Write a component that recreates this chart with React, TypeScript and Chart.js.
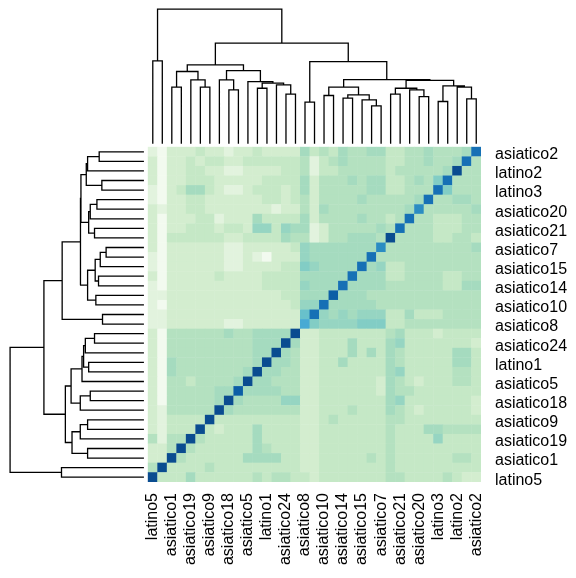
import React, { useEffect, useRef } from 'react';
import { Chart, registerables } from 'chart.js';

Chart.register(...registerables);

// Leaf order (left→right for columns, bottom→top for rows). null = label hidden in the original.
const leafLabels: (string | null)[] = [
  'latino5', null, 'asiatico1', null, 'asiatico19', null, 'asiatico9', null, 'asiatico18', null,
  'asiatico5', null, 'latino1', null, 'asiatico24', null, 'asiatico8', null, 'asiatico10', null,
  'asiatico14', null, 'asiatico15', null, 'asiatico7', null, 'asiatico21', null, 'asiatico20', null,
  'latino3', null, 'latino2', null, 'asiatico2',
];

// Colour levels (row-scaled values, binned) – light green → dark blue
const levelKeys = '0123456789abcd';
const levelColors = [
  '#f2faef', '#e2f3de', '#d3edcf', '#c5e8c6', '#b4e1c0', '#a5dbbf', '#96d5c2',
  '#82cdc5', '#68c1cb', '#47aad4', '#2b8cc2', '#1670b5', '#0c5ea6', '#0a4c90',
];

// Heatmap levels, rows listed from the top of the picture, columns left→right
const heatRowsTopDown: string[] = [
  '10222 32212 23222 25343 54455 33445 4445b',
  '20223 23322 33333 34134 54444 33445 445b4',
  '20223 32211 22223 34133 44444 34444 45d44',
  '20223 33222 22333 35244 45455 33454 7b444',
  '10235 53211 23332 35244 44455 33444 b7444',
  '10223 32222 22332 34244 44544 4445b 44554',
  '21223 32222 22212 24254 44444 445a4 44445',
  '20222 33122 25333 35244 44544 34b44 33344',
  '20223 33233 26636 55124 44445 4b444 33344',
  '20333 33322 33335 44124 45554 d4444 33443',
  '20222 22211 22222 36555 5555a 44444 44445',
  '10222 22211 21022 26555 555b4 44444 44444',
  '10222 22211 22223 37655 55b56 33444 44444',
  '20222 22322 22333 35555 5b555 33444 43344',
  '10222 22222 22333 36555 b5555 44444 43355',
  '11222 22222 22223 3555c 55544 44444 44444',
  '10222 22222 22222 366b5 55554 44444 44444',
  '11222 22222 22222 28b65 65666 33533 34444',
  '11222 22211 22222 29766 66777 33444 44444',
  '20444 44454 45555 d2233 33333 45333 23333',
  '20444 44444 4555d 52233 35333 56333 33332',
  '20444 44444 455d5 42233 35353 54333 33553',
  '20544 44444 45d55 42233 53333 54333 33553',
  '20544 44444 5d554 42233 33333 56333 33443',
  '20443 44445 d5544 42233 33332 54323 33443',
  '20444 4455c 55554 42233 33332 54433 33333',
  '20444 445d5 44446 62233 33333 56333 33332',
  '21444 44d54 44444 42233 34333 54323 33332',
  '21333 3d333 33333 32234 33333 44333 33333',
  '21333 d3233 35333 32233 33333 43335 54444',
  '4144d 43333 35333 32233 33333 43333 63333',
  '224d4 33333 35433 32233 33333 43333 33333',
  '22d43 33333 55553 32233 33343 43333 33443',
  '4d333 34333 33333 32233 33333 43333 33333',
  'd3335 33333 34344 33233 33333 44333 34322',
];

// Clustering (same tree for rows and columns). Numbers = leaf positions, 'mN' = merge N (1-based).
const mergeLeft: (number | string)[] = [
  16, 23, 30, 33, 20, 28, 18, 14, 25, 8, 11, 2, 5,
  22, 'm5', 'm7', 27, 'm9', 32, 'm3', 'm18', 'm16', 'm1', 13, 'm11', 10, 7, 'm27', 4, 'm12', 'm30', 'm31', 0, 'm33',
];
const mergeRight: (number | string)[] = [
  17, 24, 31, 34, 21, 29, 19, 15, 26, 9, 12, 3, 6,
  'm2', 'm14', 'm15', 'm6', 'm17', 'm4', 'm19', 'm20', 'm21', 'm22', 'm8', 'm24', 'm25', 'm10', 'm26', 'm13', 'm29', 'm28', 'm23', 1, 'm32',
];
const mergeHeight: number[] = [
  0.306, 0.279, 0.311, 0.331, 0.336, 0.348, 0.356, 0.366, 0.366, 0.398, 0.41, 0.418, 0.418,
  0.323, 0.361, 0.418, 0.398, 0.41, 0.418, 0.428, 0.468, 0.475, 0.609, 0.435, 0.448, 0.46, 0.473, 0.542, 0.473, 0.535, 0.585, 0.746, 0.614, 1.0,
];

const FONT = "'Liberation Sans', Arial, Helvetica, sans-serif";

export default function App() {
  const ref = useRef<HTMLCanvasElement>(null);

  useEffect(() => {
    const n = leafLabels.length;
    const cells: any[] = [];
    heatRowsTopDown.forEach((row, i) => {
      const chars = row.replace(/\s/g, '');
      for (let j = 0; j < chars.length; j++) {
        cells.push({ x: j, y: n - 1 - i, v: levelKeys.indexOf(chars[j]) });
      }
    });

    // dendrogram geometry from merges
    const nodePos: number[] = [];
    const posOf = (r: number | string): number =>
      typeof r === 'number' ? r : nodePos[parseInt(r.slice(1), 10) - 1];
    const hOf = (r: number | string): number =>
      typeof r === 'number' ? 0 : mergeHeight[parseInt(r.slice(1), 10) - 1];
    const segs: { p: number; h: number }[][] = [];
    for (let m = 0; m < mergeHeight.length; m++) {
      const pl = posOf(mergeLeft[m]);
      const pr = posOf(mergeRight[m]);
      nodePos.push((pl + pr) / 2);
      const h = mergeHeight[m];
      segs.push([
        { p: pl, h: hOf(mergeLeft[m]) },
        { p: pl, h },
        { p: pr, h },
        { p: pr, h: hOf(mergeRight[m]) },
      ]);
    }
    const topBase = 34.9, leftBase = -1, span = 14;
    const topData: any[] = [];
    const leftData: any[] = [];
    segs.forEach((s) => {
      s.forEach((pt) => {
        topData.push({ x: pt.p, y: topBase + pt.h * span });
        leftData.push({ x: leftBase - pt.h * span, y: pt.p });
      });
      topData.push({ x: null, y: null });
      leftData.push({ x: null, y: null });
    });

    const tickValues = leafLabels.map((l, i) => (l ? i : -1)).filter((i) => i >= 0);

    const cellRadius = (ctx: any) => {
      const sx = ctx.chart.scales.x;
      const sy = ctx.chart.scales.y;
      const w = Math.abs(sx.getPixelForValue(1) - sx.getPixelForValue(0));
      const h = Math.abs(sy.getPixelForValue(1) - sy.getPixelForValue(0));
      return (Math.max(w, h) + 0.4) / Math.SQRT2;
    };
    const cellColor = (ctx: any) => {
      const raw = ctx.raw;
      return raw ? levelColors[raw.v] : '#fff';
    };

    const lineStyle = {
      showLine: true,
      spanGaps: false,
      pointRadius: 0,
      borderColor: '#000',
      borderWidth: 1.3,
      borderCapStyle: 'square',
    };

    const chart = new Chart(ref.current as HTMLCanvasElement, {
      type: 'scatter',
      data: {
        datasets: [
          {
            data: cells,
            pointStyle: 'rect',
            pointRadius: cellRadius,
            pointHoverRadius: cellRadius,
            pointBackgroundColor: cellColor,
            pointBorderColor: cellColor,
            pointBorderWidth: 0,
            showLine: false,
          } as any,
          { data: topData, ...lineStyle } as any,
          { data: leftData, ...lineStyle } as any,
        ],
      },
      options: {
        responsive: false,
        animation: false,
        events: [],
        layout: { padding: 0 },
        plugins: { legend: { display: false }, tooltip: { enabled: false } },
        scales: {
          x: {
            type: 'linear',
            position: 'bottom',
            min: -16.06,
            max: 34.5,
            grid: { display: false, drawTicks: false },
            border: { display: false },
            afterBuildTicks: (s: any) => {
              s.ticks = tickValues.map((v) => ({ value: v }));
            },
            afterFit: (s: any) => {
              s.height = 96;
              s.paddingLeft = 0;
              s.paddingRight = 0;
            },
            ticks: {
              autoSkip: false,
              minRotation: 90,
              maxRotation: 90,
              padding: 11,
              color: '#000',
              font: { family: FONT, size: 16 },
              callback: (v: any) => leafLabels[v] ?? '',
            },
          },
          y: {
            type: 'linear',
            position: 'right',
            min: -0.5,
            max: 49.86,
            grid: { display: false, drawTicks: false },
            border: { display: false },
            afterBuildTicks: (s: any) => {
              s.ticks = tickValues.map((v) => ({ value: v }));
            },
            afterFit: (s: any) => {
              s.width = 95;
              s.paddingTop = 0;
              s.paddingBottom = 0;
            },
            ticks: {
              autoSkip: false,
              padding: 14,
              labelOffset: 3,
              color: '#000',
              font: { family: FONT, size: 16 },
              callback: (v: any) => leafLabels[v] ?? '',
            },
          },
        },
      } as any,
    });
    return () => chart.destroy();
  }, []);

  return (
    <div style={{ position: 'fixed', left: 0, top: 0, width: 576, height: 578, background: '#fff' }}>
      <canvas ref={ref} width={576} height={578} style={{ display: 'block' }} />
    </div>
  );
}
